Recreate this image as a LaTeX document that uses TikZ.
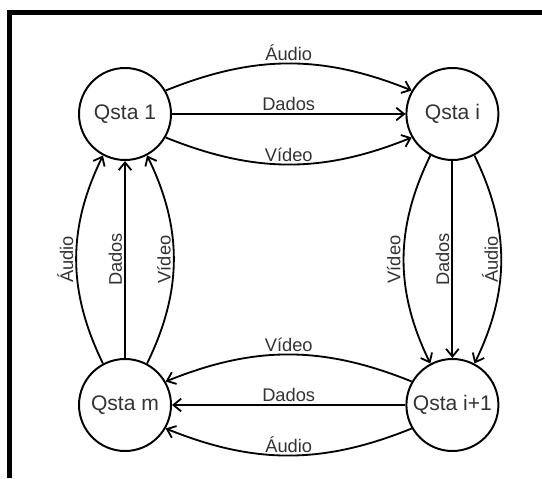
\documentclass[tikz,border=0pt]{standalone}
\usepackage{fontspec}
\setmainfont{Liberation Sans}
\usetikzlibrary{arrows.meta}

\begin{document}
\begin{tikzpicture}[
  station/.style={draw, circle, line width=1.4pt, minimum size=2.3cm, inner sep=0pt, font=\fontsize{15}{18}\selectfont, text=black!80},
  flow/.style={line width=1.3pt, -{Straight Barb[length=5.5pt, width=9pt]}},
  lbl/.style={font=\fontsize{13}{15}\selectfont, text=black!80, inner sep=1.5pt},
  vlbl/.style={lbl, rotate=90, anchor=south}
]
\useasboundingbox (0,0) rectangle (13.55,11.95);

% Frame (top and left edges)
\draw[line width=3.5pt] (0.2375,0) -- (0.2375,11.6375) -- (13.6,11.6375);

% Stations
\node[station] (q1) at (3.125,9.1) {Qsta 1};
\node[station] (qi) at (11.31,9.1) {Qsta i};
\node[station] (qm) at (3.125,1.825) {Qsta m};
\node[station] (qiNext) at (11.31,1.825) {Qsta i+1};

% Qsta 1 -> Qsta i
\draw[flow] (q1.30) to[bend left=22] node[lbl, midway, above] {Áudio} (qi.150);
\draw[flow] (q1) -- node[lbl, above] {Dados} (qi);
\draw[flow] (q1.-30) to[bend right=22] node[lbl, midway, above] {Vídeo} (qi.-150);

% Qsta i -> Qsta i+1
\draw[flow] (qi.242) to[bend right=26] node[vlbl, midway] {Vídeo} (qiNext.118);
\draw[flow] (qi) -- node[vlbl] {Dados} (qiNext);
\draw[flow] (qi.298) to[bend left=26] node[vlbl, midway] {Áudio} (qiNext.62);

% Qsta i+1 -> Qsta m
\draw[flow] (qiNext.150) to[bend right=22] node[lbl, midway, above] {Vídeo} (qm.30);
\draw[flow] (qiNext) -- node[lbl, above] {Dados} (qm);
\draw[flow] (qiNext.210) to[bend left=22] node[lbl, midway, above] {Áudio} (qm.330);

% Qsta m -> Qsta 1
\draw[flow] (qm.118) to[bend left=26] node[vlbl, midway] {Áudio} (q1.242);
\draw[flow] (qm) -- node[vlbl] {Dados} (q1);
\draw[flow] (qm.62) to[bend right=26] node[vlbl, midway] {Vídeo} (q1.298);

\end{tikzpicture}
\end{document}
